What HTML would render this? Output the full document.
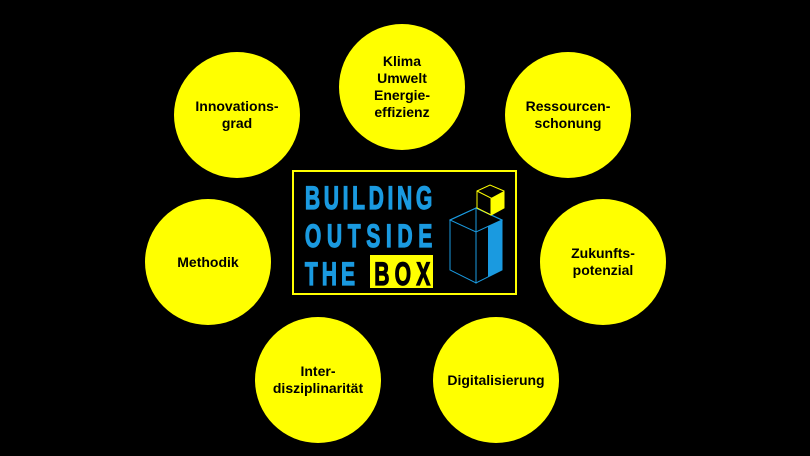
<!DOCTYPE html>
<html><head><style>
body{margin:0;background:#000;width:810px;height:456px;overflow:hidden;position:relative;font-family:"Liberation Sans",sans-serif}
.c{position:absolute;width:126px;height:126px;border-radius:50%;background:#ffff00;display:flex;align-items:center;justify-content:center;text-align:center;font-weight:bold;font-size:14px;line-height:17px;color:#000}
.box{position:absolute;left:292px;top:170px;width:221px;height:121px;border:2px solid #ffff00}
</style></head><body>
<div class="c" style="left:174px;top:52px">Innovations-<br>grad</div>
<div class="c" style="left:339px;top:24px">Klima<br>Umwelt<br>Energie-<br>effizienz</div>
<div class="c" style="left:505px;top:52px">Ressourcen-<br>schonung</div>
<div class="c" style="left:145px;top:199px">Methodik</div>
<div class="c" style="left:540px;top:199px">Zukunfts-<br>potenzial</div>
<div class="c" style="left:255px;top:317px">Inter-<br>disziplinarität</div>
<div class="c" style="left:433px;top:317px">Digitalisierung</div>
<div class="box"></div>
<svg style="position:absolute;left:0;top:0" width="810" height="456">
<rect x="370" y="255" width="63" height="33" fill="#ffff00"/>
<g transform="scale(0.66,1)" font-family="Liberation Sans" font-weight="bold" font-size="32" fill="#1a9ae0" stroke="#1a9ae0" stroke-width="1.2">
<text x="462" y="209" textLength="193" lengthAdjust="spacing">BUILDING</text>
<text x="462" y="247" textLength="193" lengthAdjust="spacing">OUTSIDE</text>
<text x="462" y="285" textLength="76" lengthAdjust="spacing">THE</text>
<text x="567" y="285" textLength="85" lengthAdjust="spacing" fill="#000" stroke="#000">BOX</text>
</g>
<g stroke="#1a9ae0" stroke-width="1" fill="none">
<polygon points="450,220 476,208 476,283 450,270"/>
<polygon points="476,208 502,220 502,270 476,283"/>
<polygon points="450,220 476,208 502,220 476,232"/>
</g>
<polygon points="488,226 502,220 502,270 488,277" fill="#1a9ae0"/>
<polygon points="477,191 490,185 504,191 504,208 491,215 477,208" fill="none" stroke="#ffff00"/>
<polygon points="491,198 504,191 504,208 491,215" fill="#ffff00"/>
<polyline points="477,191 491,198 491,215" fill="none" stroke="#ffff00"/>
</svg>
</body></html>
